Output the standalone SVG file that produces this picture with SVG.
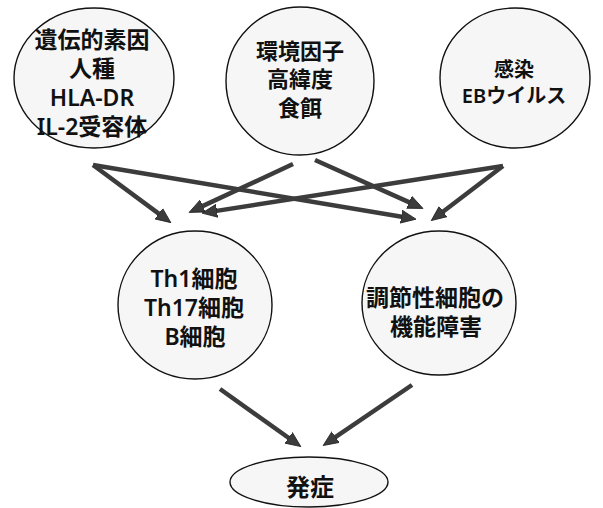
<svg xmlns="http://www.w3.org/2000/svg" width="603" height="508" viewBox="0 0 603 508">
<style>
.n ellipse{fill:#f6f6f6;stroke:#111;stroke-width:1.4}
.n text{font-family:"Noto Sans","Noto Sans CJK JP",sans-serif;font-weight:600;fill:#111;text-anchor:middle}
.c line{stroke:#3c3c3c;stroke-width:4.5;marker-end:url(#ah)}
</style>
<defs>
<marker id="ah" markerUnits="userSpaceOnUse" markerWidth="16" markerHeight="14" refX="2" refY="7" orient="auto">
<path d="M0,0.5 L15,7 L0,13.5 z" fill="#3c3c3c" stroke="#222" stroke-width="0.8"/>
</marker>
</defs>
<rect width="603" height="508" fill="#fff"/>
<g class="c" id="connectors">
<line x1="93" y1="165" x2="160.4" y2="214.9"/>
<line x1="93" y1="165" x2="403.2" y2="217"/>
<line x1="293" y1="164" x2="200.9" y2="206.9"/>
<line x1="503" y1="166" x2="214.9" y2="211.1"/>
<line x1="315" y1="160" x2="411.1" y2="203.1"/>
<line x1="503" y1="166" x2="441.6" y2="212.7"/>
<line x1="220" y1="389" x2="290.2" y2="439"/>
<line x1="412" y1="385" x2="333.9" y2="438.2"/>
</g>
<g class="n" id="genetic">
<ellipse cx="94" cy="78" rx="80" ry="70"/>
<text font-size="23"><tspan x="92" y="48">遺伝的素因</tspan><tspan x="92" y="77">人種</tspan><tspan x="92" y="106">HLA-DR</tspan><tspan x="92" y="135">IL-2受容体</tspan></text>
</g>
<g class="n" id="environment">
<ellipse cx="300" cy="81" rx="74" ry="74"/>
<text font-size="22"><tspan x="300" y="59">環境因子</tspan><tspan x="300" y="87">高緯度</tspan><tspan x="300" y="116">食餌</tspan></text>
</g>
<g class="n" id="infection">
<ellipse cx="515" cy="78" rx="75" ry="70"/>
<text font-size="20"><tspan x="514" y="77">感染</tspan><tspan x="514" y="103">EBウイルス</tspan></text>
</g>
<g class="n" id="effector">
<ellipse cx="195" cy="305" rx="77" ry="74"/>
<text font-size="23"><tspan x="194" y="287">Th1細胞</tspan><tspan x="194" y="316">Th17細胞</tspan><tspan x="195" y="345">B細胞</tspan></text>
</g>
<g class="n" id="regulatory">
<ellipse cx="439" cy="303" rx="77" ry="72"/>
<text font-size="23"><tspan x="435" y="306">調節性細胞の</tspan><tspan x="436" y="335">機能障害</tspan></text>
</g>
<g class="n" id="onset">
<ellipse cx="309" cy="482" rx="79" ry="25"/>
<text font-size="24"><tspan x="310" y="496">発症</tspan></text>
</g>
</svg>
